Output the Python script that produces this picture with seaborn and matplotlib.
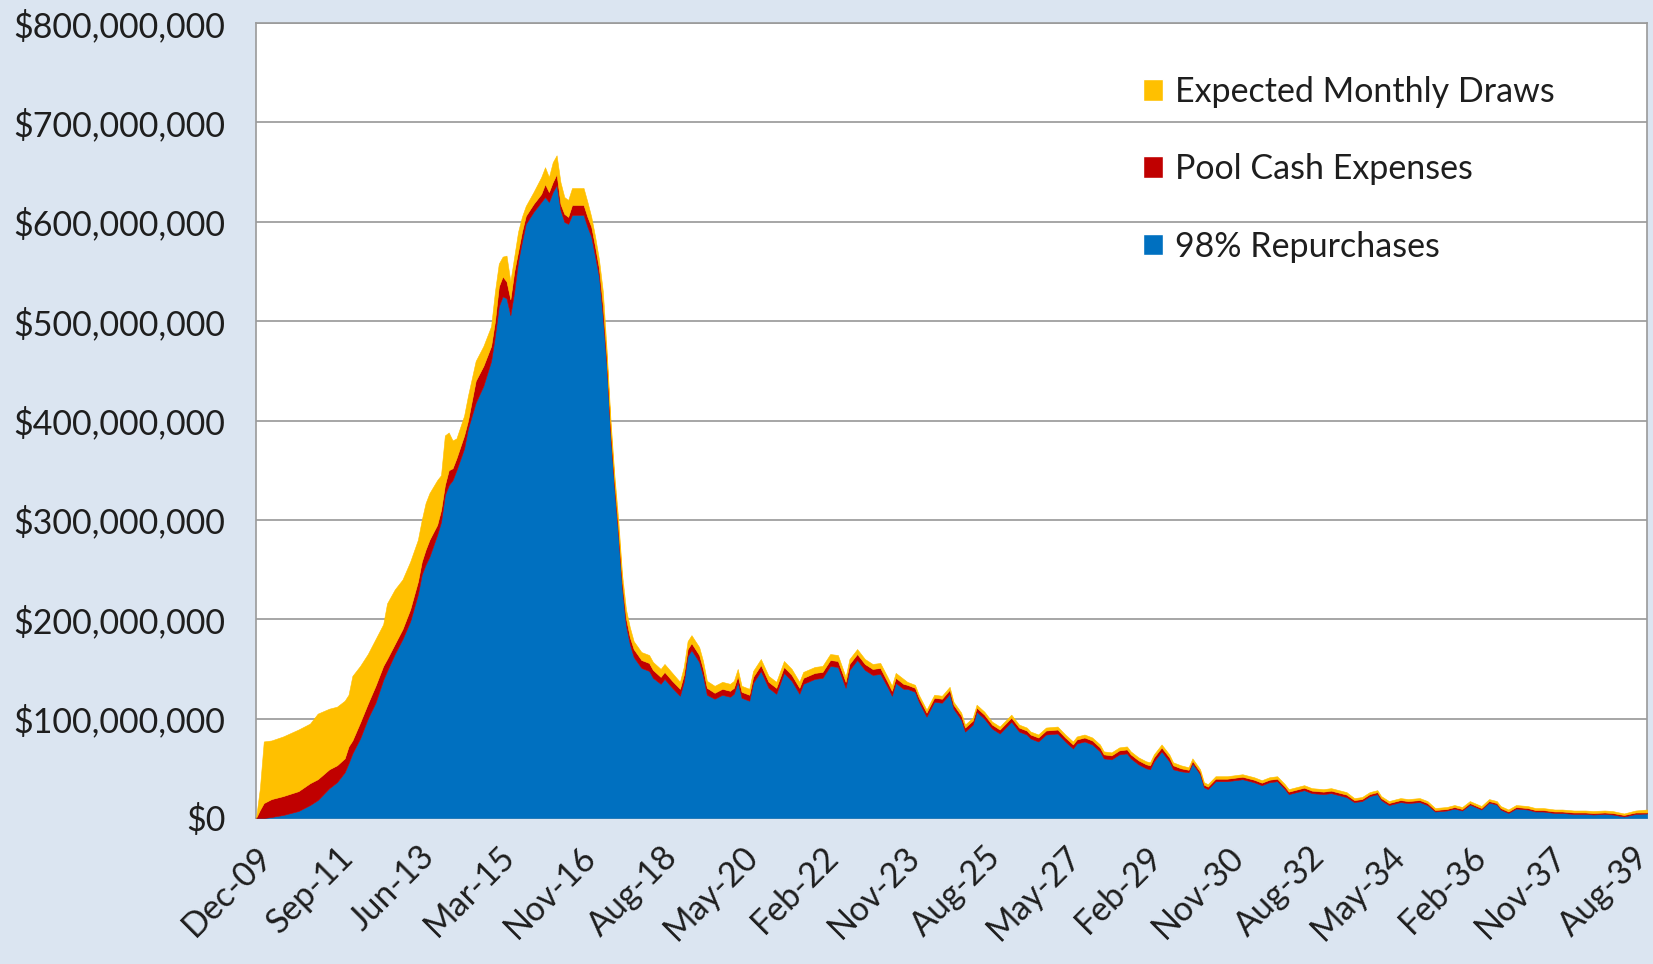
import matplotlib.pyplot as plt
import matplotlib.ticker as mticker
from matplotlib.patches import Patch
import pandas as pd
import seaborn as sns

# month index (0 = Dec-09), values in $ millions
months = [
    0, 1, 2, 4, 7, 11, 14, 16, 19, 21, 23, 24, 25, 27, 29, 31, 33, 34, 36, 38, 40, 42, 43, 44, 45, 47,
    48, 49, 50, 51, 52, 54, 55, 57, 59, 61, 62, 63, 64, 65, 66, 67, 68, 69, 70, 72, 74, 75, 76, 77,
    78, 79, 80, 81, 82, 85,
    86, 87, 88, 89, 90, 91, 92, 93, 94, 95, 96, 97, 98, 100, 102, 103, 105, 106, 108, 110, 111, 112,
    113, 115, 116, 117, 119,
    121, 123, 124, 125, 126, 128, 129, 131, 133, 135, 137, 139, 141, 142, 145, 147, 149, 151, 153, 154,
    156, 158, 160, 162, 164, 165, 166, 168,
    169, 171, 172, 174, 176, 178, 180, 181, 183, 184, 186, 187, 189, 191, 193, 194, 196, 198, 200, 201,
    203, 205, 208, 210, 212, 213, 215, 217, 219, 220, 222, 224, 226, 227, 229, 231, 232, 233, 235, 237,
    238, 240,
    242, 243, 245, 246, 247, 249, 252, 254, 256, 259, 261, 263, 265, 267, 268, 270, 272, 274, 277, 279,
    281, 283,
    285, 287, 289, 291, 292, 294, 297, 299, 302, 304,
    306, 309, 311, 313, 315, 318, 320, 322, 323, 325, 327, 330, 332, 334, 337, 339, 342, 345, 347, 350,
    352,
    355, 358, 361,
]

repurchases = [
    0, 0, 0, 1, 3, 7, 13, 18, 30, 36, 46, 55, 65, 80, 100, 116, 139, 148, 165, 180, 198, 225, 245, 255, 263, 285,
    298, 325, 335, 340, 350, 372, 392, 418, 435, 460, 485, 515, 525, 523, 506, 530, 560, 580, 598, 610, 620, 625,
    620, 630, 637, 612, 600, 598, 607, 607,
    595, 585, 565, 545, 505, 455, 385, 332, 285, 232, 194, 175, 162, 151, 148, 141, 135, 140, 131, 123, 137, 163,
    169, 157, 143, 124, 120,
    124, 122, 125, 137, 121, 118, 136, 148, 131, 125, 146, 138, 125, 135, 140, 141, 153, 152, 131, 149,
    159, 149, 144, 145, 131, 123, 136, 130,
    130, 127, 117, 102, 117, 116, 125, 110, 99, 87, 94, 107, 100, 90, 85, 89, 97, 87, 84, 80,
    77, 84, 85, 77, 70, 75, 77, 74, 67, 60, 59, 64, 65, 60, 54, 50, 49, 57, 67, 57,
    49, 47,
    46, 55, 44, 31, 29, 37, 37, 38, 39, 36, 33, 36, 37, 29, 24, 26, 28, 25, 24, 25,
    23, 21,
    16, 17, 22, 24, 18, 13, 16, 15, 16, 13,
    6.5, 7.5, 9.5, 7.5, 13.5, 8.5, 15.5, 13.5, 8.5, 5, 9.5, 8.5, 6.5, 6.5, 5, 5, 4, 4, 3.5, 4,
    3.5,
    1.5, 4, 4.5,
]

pool_cash = [
    0, 8, 15, 18, 19, 20, 22, 21, 19, 17, 14, 17, 13, 16, 15, 17, 14, 12, 10, 10, 12, 13, 13, 15, 17, 10,
    12, 10, 15, 12, 12, 13, 8, 22, 20, 15, 15, 20, 20, 17, 16, 20, 10, 10, 8, 8, 8, 13,
    10, 10, 11, 6, 8, 7, 10, 10,
    10, 10, 10, 8, 10, 7, 7, 6, 6, 6, 7, 7, 8, 8, 8, 8, 7, 7, 7, 7, 7, 7,
    7, 7, 7, 7, 6,
    6, 6, 6, 6, 6, 6, 6, 6, 6, 6, 6, 6, 6, 6, 6, 6, 6, 6, 6, 6,
    6, 6, 6, 6, 5, 5, 5, 5,
    4, 4, 4, 4, 4, 4, 4, 4, 4, 4, 4, 4, 4, 4, 4, 4, 4, 4, 4, 4,
    4, 4, 4, 4, 4, 4, 4, 4, 4, 4, 4, 4, 4, 4, 4, 4, 4, 4, 4, 4,
    4, 3,
    2.5, 2.5, 2.5, 2.5, 2.5, 2.5, 2.5, 2.5, 2.5, 2.5, 2.5, 2.5, 2.5, 2.5, 2.5, 2.5, 2.5, 2.5, 2.5, 2.5,
    2.5, 2.5,
    2, 2, 2, 2, 2, 2, 2, 2, 2, 2,
    1.5, 1.5, 1.5, 1.5, 1.5, 1.5, 1.5, 1.5, 1.5, 1.5, 1.5, 1.5, 1.5, 1.5, 1.5, 1.5, 1.5, 1.5, 1.5, 1.5,
    1.5,
    1.5, 1.5, 1,
]

monthly_draws = [
    0, 22, 62, 59, 60, 62, 60, 66, 61, 59, 58, 52, 65, 57, 50, 47, 42, 56, 55, 50, 48, 42, 42, 47, 47, 45,
    35, 50, 38, 28, 20, 20, 25, 20, 20, 20, 30, 23, 20, 26, 18, 15, 20, 15, 10, 12, 17, 17,
    15, 20, 19, 22, 17, 17, 17, 17,
    15, 10, 10, 9, 15, 8, 8, 7, 9, 7, 9, 10, 8, 8, 8, 8, 8, 8, 8, 7, 8, 8,
    8, 8, 8, 7, 7,
    7, 7, 7, 7, 6, 6, 6, 6, 6, 6, 6, 6, 6, 6, 6, 6, 6, 6, 5, 5,
    5, 5, 5, 5, 5, 5, 5, 5,
    3, 3, 3, 3, 3, 3, 3, 3, 3, 3, 3, 3, 3, 3, 3, 3, 3, 3, 3, 3,
    3, 3, 3, 3, 3, 3, 3, 3, 3, 3, 3, 3, 3, 3, 3, 3, 3, 3, 3, 3,
    3, 3,
    2.5, 2.5, 2.5, 2.5, 2.5, 2.5, 2.5, 2.5, 2.5, 2.5, 2.5, 2.5, 2.5, 2.5, 2.5, 2.5, 2.5, 2.5, 2.5, 2.5,
    2.5, 2.5,
    2, 2, 2, 2, 2, 2, 2, 2, 2, 2,
    2, 2, 2, 2, 2, 2, 2, 2, 2, 2, 2, 2, 2, 2, 2, 2, 2, 2, 2, 2,
    2,
    1.5, 2, 3,
]

tick_labels = ['Dec-09', 'Sep-11', 'Jun-13', 'Mar-15', 'Nov-16', 'Aug-18', 'May-20', 'Feb-22',
               'Nov-23', 'Aug-25', 'May-27', 'Feb-29', 'Nov-30', 'Aug-32', 'May-34', 'Feb-36',
               'Nov-37', 'Aug-39']

df = pd.DataFrame({'month': months, 'repurchases': repurchases,
                   'pool_cash': pool_cash, 'draws': monthly_draws})

BLUE, RED, YELLOW = '#0070C0', '#C00000', '#FFC000'
BG = '#DBE5F1'

sns.set_style("white")
plt.rcParams['font.family'] = ['Lato', 'DejaVu Sans']

fig = plt.figure(figsize=(16.53, 9.64), dpi=100, facecolor=BG)
ax = fig.add_axes([0.1549, 0.1515, 0.8415, 0.8245])
ax.set_facecolor('white')

ax.stackplot(df['month'], df['repurchases'], df['pool_cash'], df['draws'],
             colors=[BLUE, RED, YELLOW], linewidth=0.4, edgecolor='face', zorder=3)

ax.set_xlim(0, 361)
ax.set_ylim(0, 800)
ax.set_yticks(range(0, 801, 100))
ax.yaxis.set_major_formatter(mticker.FuncFormatter(lambda v, _: f'${v * 1e6:,.0f}'))
ax.set_xticks([21 * i for i in range(len(tick_labels))])
ax.set_xticklabels(tick_labels, rotation=45, ha='right', rotation_mode='anchor')

ax.grid(axis='y', color='#A6A6A6', linewidth=1.4, zorder=1)
ax.set_axisbelow(True)
for s in ax.spines.values():
    s.set_color('#9A9A9A')
    s.set_linewidth(1.2)
ax.tick_params(axis='both', which='major', labelsize=24.5, colors='#9A9A9A',
               labelcolor='#1E1E1E', length=10, width=1.2, direction='out')
ax.tick_params(axis='y', pad=12)
ax.tick_params(axis='x', pad=6)

handles = [Patch(facecolor=YELLOW, label='Expected Monthly Draws'),
           Patch(facecolor=RED, label='Pool Cash Expenses'),
           Patch(facecolor=BLUE, label='98% Repurchases')]
fig.legend(handles=handles, loc='upper left', bbox_to_anchor=(1143 / 1653, 1 - 76 / 964),
           frameon=False, fontsize=24.5, handlelength=0.6, handleheight=0.6,
           handletextpad=0.35, labelspacing=1.33, borderaxespad=0, borderpad=0,
           labelcolor='#1E1E1E')

fig.savefig('out.png', dpi=100, facecolor=BG)
